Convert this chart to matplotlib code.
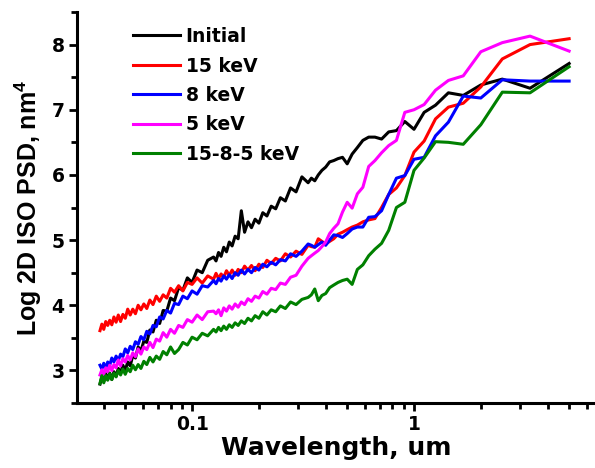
import matplotlib
matplotlib.use("Agg")
import matplotlib.pyplot as plt
from matplotlib.ticker import FixedLocator, NullFormatter, MultipleLocator
import numpy as np

plt.rcParams['font.family'] = ['DejaVu Sans']
plt.rcParams['font.weight'] = 'bold'
plt.rcParams['mathtext.fontset'] = 'custom'
plt.rcParams['mathtext.rm'] = 'Liberation Sans:bold'
plt.rcParams['mathtext.bf'] = 'Liberation Sans:bold'

# wavelength grid, um
wavelength = [
    5.0, 3.333, 2.5, 2.0, 1.667, 1.429, 1.25, 1.111, 1.0, 0.9091,
    0.8333, 0.7692, 0.7143, 0.6667, 0.625, 0.5882, 0.5556, 0.5263, 0.5, 0.4762,
    0.4545, 0.4348, 0.4167, 0.4, 0.3846, 0.3704, 0.3571, 0.3448, 0.3333,
    0.3125, 0.2941, 0.2778, 0.2632, 0.25, 0.2381, 0.2273, 0.2174, 0.2083, 0.2,
    0.1923, 0.1852, 0.1786, 0.1724, 0.1667, 0.1613, 0.1563, 0.1515, 0.1471, 0.1429,
    0.1389, 0.1351, 0.1316, 0.1282, 0.125,
    0.1176, 0.1111, 0.1053, 0.1, 0.09524, 0.09091, 0.08696, 0.08333, 0.08, 0.07692,
    0.07407, 0.07143, 0.06897, 0.06667, 0.06452, 0.0625, 0.06061, 0.05882, 0.05714, 0.05556,
    0.05405, 0.05263, 0.05128, 0.05, 0.04878, 0.04762, 0.04651, 0.04545, 0.04444, 0.04348,
    0.04255, 0.04167, 0.04082, 0.04, 0.03922, 0.03846,
]

initial = [
    7.71, 7.33, 7.47, 7.38, 7.22, 7.26, 7.07, 6.96, 6.70, 6.82,
    6.68, 6.66, 6.55, 6.58, 6.58, 6.53, 6.42, 6.32, 6.17, 6.27,
    6.25, 6.22, 6.20, 6.12, 6.07, 6.00, 5.91, 5.95, 5.88,
    5.97, 5.74, 5.80, 5.60, 5.65, 5.48, 5.52, 5.37, 5.42, 5.26,
    5.32, 5.19, 5.28, 5.12, 5.45, 5.02, 5.06, 4.91, 4.97, 4.82,
    4.89, 4.75, 4.81, 4.68, 4.74,
    4.69, 4.50, 4.54, 4.35, 4.42, 4.23, 4.27, 4.07, 4.11, 3.91,
    3.92, 3.72, 3.77, 3.59, 3.62, 3.43, 3.45, 3.30, 3.36, 3.19,
    3.23, 3.07, 3.13, 3.00, 3.08, 2.96, 3.03, 2.91, 2.98, 2.86,
    2.96, 2.86, 2.95, 2.83, 2.90, 2.79,
]

kev15 = [
    8.09, 8.00, 7.78, 7.35, 7.10, 7.04, 6.86, 6.52, 6.35, 5.99,
    5.80, 5.70, 5.50, 5.33, 5.31, 5.28, 5.23, 5.20, 5.16, 5.12,
    5.09, 5.02, 4.98, 4.94, 4.98, 5.02, 4.89, 4.90, 4.92,
    4.78, 4.83, 4.74, 4.79, 4.68, 4.72, 4.64, 4.69, 4.58, 4.63,
    4.53, 4.61, 4.54, 4.60, 4.50, 4.55, 4.46, 4.54, 4.46, 4.53,
    4.43, 4.48, 4.41, 4.49, 4.40,
    4.45, 4.34, 4.42, 4.32, 4.35, 4.22, 4.30, 4.20, 4.26, 4.11,
    4.16, 4.06, 4.14, 4.01, 4.08, 3.95, 4.02, 3.93, 4.00, 3.87,
    3.94, 3.85, 3.94, 3.80, 3.86, 3.75, 3.85, 3.74, 3.82, 3.70,
    3.77, 3.69, 3.75, 3.63, 3.71, 3.61,
]

kev8 = [
    7.44, 7.44, 7.46, 7.18, 7.21, 6.81, 6.60, 6.27, 6.24, 5.99,
    5.95, 5.70, 5.45, 5.36, 5.35, 5.20, 5.20, 5.17, 5.10, 5.04,
    5.07, 5.08, 5.00, 4.92, 4.97, 4.93, 4.89, 4.92, 4.94,
    4.83, 4.75, 4.79, 4.68, 4.70, 4.62, 4.66, 4.59, 4.63, 4.54,
    4.58, 4.50, 4.55, 4.48, 4.54, 4.46, 4.50, 4.41, 4.47, 4.40,
    4.45, 4.37, 4.41, 4.33, 4.38,
    4.28, 4.30, 4.17, 4.22, 4.10, 4.14, 4.01, 4.03, 3.88, 3.92,
    3.79, 3.82, 3.67, 3.69, 3.56, 3.60, 3.47, 3.52, 3.40, 3.44,
    3.32, 3.37, 3.27, 3.33, 3.21, 3.25, 3.15, 3.22, 3.13, 3.19,
    3.08, 3.13, 3.03, 3.11, 3.02, 3.08,
]

kev5 = [
    7.90, 8.13, 8.03, 7.89, 7.52, 7.45, 7.30, 7.08, 7.00, 6.96,
    6.53, 6.45, 6.34, 6.22, 6.13, 5.81, 5.71, 5.49, 5.58, 5.43,
    5.25, 5.18, 5.10, 4.97, 4.90, 4.84, 4.80, 4.76, 4.72,
    4.60, 4.46, 4.43, 4.32, 4.34, 4.24, 4.26, 4.17, 4.21, 4.11,
    4.14, 4.06, 4.10, 4.01, 4.05, 3.97, 4.02, 3.94, 3.99, 3.91,
    3.96, 3.84, 3.93, 3.87, 3.91,
    3.90, 3.78, 3.85, 3.74, 3.78, 3.66, 3.69, 3.57, 3.63, 3.51,
    3.58, 3.45, 3.48, 3.35, 3.43, 3.32, 3.36, 3.25, 3.33, 3.21,
    3.27, 3.16, 3.23, 3.13, 3.18, 3.07, 3.16, 3.04, 3.09, 3.00,
    3.08, 2.98, 3.04, 2.94, 3.01, 2.93,
]

kev1585 = [
    7.66, 7.26, 7.27, 6.77, 6.47, 6.50, 6.51, 6.26, 6.07, 5.58,
    5.50, 5.15, 4.95, 4.86, 4.76, 4.62, 4.55, 4.32, 4.40, 4.38,
    4.35, 4.31, 4.27, 4.18, 4.15, 4.07, 4.25, 4.16, 4.12,
    4.09, 4.01, 4.05, 3.95, 3.99, 3.90, 3.93, 3.85, 3.90, 3.80,
    3.84, 3.76, 3.80, 3.72, 3.76, 3.69, 3.73, 3.66, 3.70, 3.63,
    3.68, 3.61, 3.66, 3.59, 3.63,
    3.53, 3.57, 3.47, 3.51, 3.39, 3.43, 3.32, 3.26, 3.36, 3.24,
    3.29, 3.17, 3.22, 3.13, 3.20, 3.09, 3.14, 3.03, 3.09, 3.01,
    3.08, 2.98, 3.03, 2.94, 3.02, 2.93, 3.00, 2.90, 2.96, 2.86,
    2.95, 2.85, 2.92, 2.81, 2.92, 2.80,
]

labels = ['Initial', '15 keV', '8 keV', '5 keV', '15-8-5 keV']
colors = ['#000000', '#ff0000', '#0000ff', '#ff00ff', '#008000']
series = [initial, kev15, kev8, kev5, kev1585]

fig = plt.figure(figsize=(5.95, 4.68), dpi=100, facecolor='white')
ax = fig.add_axes([77/595, 1 - 403/468, 1 - 77/595, (403 - 12)/468])

for y, c, lab in zip(series, colors, labels):
    ax.plot(wavelength, y, color=c, lw=2.2, label=lab)

ax.set_xscale('log')
ax.set_xlim(0.0303, 6.54)
ax.set_ylim(2.5, 8.5)

ax.xaxis.set_major_locator(FixedLocator([0.1, 1]))
ax.xaxis.set_minor_locator(FixedLocator([0.03, 0.04, 0.05, 0.06, 0.07, 0.08, 0.09,
                                         0.2, 0.3, 0.4, 0.5, 0.6, 0.7, 0.8, 0.9,
                                         2, 3, 4, 5, 6]))
ax.xaxis.set_minor_formatter(NullFormatter())
ax.set_xticklabels(['0.1', '1'])
ax.yaxis.set_minor_locator(MultipleLocator(0.5))
ax.set_yticks([3, 4, 5, 6, 7, 8])
ax.set_yticklabels(['3', '4', '5', '6', '7', '8'])

for s in ['top', 'right']:
    ax.spines[s].set_visible(False)
for s in ['left', 'bottom']:
    ax.spines[s].set_linewidth(2.2)

ax.tick_params(which='major', direction='out', length=6, width=2, labelsize=13.5, pad=3)
ax.tick_params(which='minor', direction='out', length=4, width=2)
for t in ax.get_xticklabels() + ax.get_yticklabels():
    t.set_fontweight('bold')

ax.set_xlabel('Wavelength, um', fontsize=18, fontweight='bold', labelpad=1)
ax.set_ylabel(r'Log 2D ISO PSD, nm$^\mathbf{4}$', fontsize=18, fontweight='bold',
              family='Liberation Sans', labelpad=5)

leg = ax.legend(loc='upper left', bbox_to_anchor=(133/595, 1 - 27/468),
                bbox_transform=fig.transFigure, frameon=False, borderpad=0,
                borderaxespad=0, handlelength=2.5, handletextpad=0.3,
                labelspacing=0.56, prop={'size': 13.5, 'weight': 'bold'})

fig.savefig('out.png', dpi=100, facecolor='white')
